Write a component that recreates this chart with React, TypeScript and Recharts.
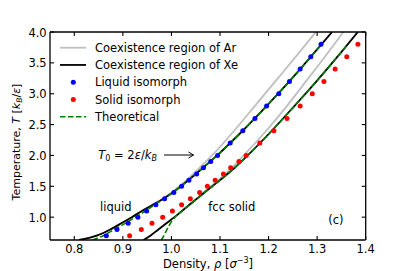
import React from 'react';
import { ComposedChart, Line, Scatter, XAxis, YAxis } from 'recharts';

// Isomorph state points (temperature, density)
const isoT = [0.6, 0.7, 0.8, 0.9, 1.0, 1.1, 1.2, 1.3, 1.4, 1.5, 1.6, 1.7, 1.8, 1.9, 2.0, 2.2, 2.4, 2.6, 2.8, 3.0, 3.2, 3.4, 3.6, 3.8];
const liquidIsoRho = [0.843, 0.866, 0.888, 0.911, 0.931, 0.949, 0.968, 0.986, 1.005, 1.021, 1.036, 1.052, 1.066, 1.081, 1.095, 1.121, 1.147, 1.172, 1.196, 1.221, 1.243, 1.265, 1.287, 1.308];
const solidIsoRho = [0.889, 0.914, 0.938, 0.960, 0.982, 1.002, 1.021, 1.039, 1.058, 1.074, 1.090, 1.107, 1.122, 1.139, 1.154, 1.182, 1.211, 1.238, 1.265, 1.290, 1.314, 1.337, 1.361, 1.384];

// Coexistence lines
const curveT = [0.63, 0.7, 0.8, 0.9, 1.0, 1.1, 1.2, 1.3, 1.4, 1.6, 1.8, 2.0, 2.4, 2.8, 3.2, 3.6, 4.0];
const arLiquidRho = [0.8099, 0.8461, 0.874, 0.8967, 0.9184, 0.939, 0.9607, 0.9814, 1.0, 1.031, 1.0579, 1.0837, 1.1291, 1.1715, 1.2138, 1.2562, 1.2975];
const arSolidRho = [0.9428, 0.9566, 0.9731, 0.9897, 1.0062, 1.0217, 1.0362, 1.0517, 1.0661, 1.0961, 1.124, 1.1488, 1.1953, 1.2376, 1.2769, 1.3161, 1.3539];
const xeLiquidRho = [0.8099, 0.8461, 0.874, 0.8967, 0.9184, 0.939, 0.9618, 0.9835, 1.0031, 1.0351, 1.0651, 1.094, 1.1467, 1.1957, 1.2428, 1.2872, 1.3306];
const xeSolidRho = [0.9428, 0.9566, 0.9731, 0.9897, 1.0062, 1.0217, 1.0372, 1.0527, 1.0682, 1.1002, 1.1302, 1.157, 1.2066, 1.2531, 1.2986, 1.3419, 1.3837];

// Theoretical lines
const theoryT = [0.63, 0.7, 0.8, 0.9, 1.0, 1.1, 1.2, 1.3, 1.4, 1.6, 1.8, 2.0, 2.4, 2.8, 3.2, 3.6, 3.8];
const theoryLiquidRho = [0.838, 0.8595, 0.8822, 0.905, 0.9256, 0.9463, 0.9659, 0.9845, 1.0031, 1.0351, 1.0651, 1.094, 1.1467, 1.1957, 1.2428, 1.2872, 1.3089];
const theorySolidRho = [0.9793, 0.9845, 0.9907, 0.9979, 1.0072, 1.0217, 1.0372, 1.0527, 1.0682, 1.1002, 1.1302, 1.157, 1.2066, 1.2531, 1.2986, 1.3419, 1.3628];

const xTicks = [0.8, 0.9, 1.0, 1.1, 1.2, 1.3, 1.4];
const yTicks = [1.0, 1.5, 2.0, 2.5, 3.0, 3.5, 4.0];
const xDomain = [0.75, 1.4];
const yDomain = [0.63, 4.0];

const pairs = (rho: number[], T: number[]) => rho.map((r, i) => ({ rho: r, T: T[i] }));

const arLiquid = pairs(arLiquidRho, curveT);
const arSolid = pairs(arSolidRho, curveT);
const xeLiquid = pairs(xeLiquidRho, curveT);
const xeSolid = pairs(xeSolidRho, curveT);
const thLiquid = pairs(theoryLiquidRho, theoryT);
const thSolid = pairs(theorySolidRho, theoryT);
const liquidIso = pairs(liquidIsoRho, isoT);
const solidIso = pairs(solidIsoRho, isoT);

const FONT = 'DejaVu Sans';
const FS = 11.5;
const TICK = 4;

const BottomTick = (p: any) => (
  <g>
    <line x1={p.x} x2={p.x} y1={p.y} y2={p.y - TICK} stroke="#000" strokeWidth={1.1} />
    <text x={p.x} y={p.y + 13.3} textAnchor="middle" fontSize={FS} fontFamily={FONT} fill="#000">
      {Number(p.payload.value).toFixed(1)}
    </text>
  </g>
);
const TopTick = (p: any) => (
  <line x1={p.x} x2={p.x} y1={p.y} y2={p.y + TICK} stroke="#000" strokeWidth={1.1} />
);
const LeftTick = (p: any) => (
  <g>
    <line x1={p.x} x2={p.x + TICK} y1={p.y} y2={p.y} stroke="#000" strokeWidth={1.1} />
    <text x={p.x - 3.3} y={p.y + 4.5} textAnchor="end" fontSize={FS} fontFamily={FONT} fill="#000">
      {Number(p.payload.value).toFixed(1)}
    </text>
  </g>
);
const RightTick = (p: any) => (
  <line x1={p.x} x2={p.x - TICK} y1={p.y} y2={p.y} stroke="#000" strokeWidth={1.1} />
);

const dot = (color: string) => (p: any) => <circle cx={p.cx} cy={p.cy} r={2.5} fill={color} />;

const axisLine = { stroke: '#000', strokeWidth: 1.3 };

const legendRows = [
  { label: 'Coexistence region of Ar', kind: 'line', color: '#bfbfbf' },
  { label: 'Coexistence region of Xe', kind: 'line', color: '#000000' },
  { label: 'Liquid isomorph', kind: 'dot', color: '#0000ff' },
  { label: 'Solid isomorph', kind: 'dot', color: '#ff0000' },
  { label: 'Theoretical', kind: 'dash', color: '#008000' },
];

export default function App() {
  return (
    <div style={{ position: 'absolute', left: 0, top: 0, width: 407, height: 271, background: '#fff' }}>
      <ComposedChart width={407} height={271} margin={{ top: 31, right: 40.3, bottom: 6, left: 10 }}>
        <XAxis
          xAxisId="b"
          type="number"
          dataKey="rho"
          domain={xDomain}
          ticks={xTicks}
          allowDataOverflow
          height={25}
          tickSize={0}
          tickMargin={0}
          tickLine={false}
          axisLine={axisLine}
          tick={BottomTick}
          interval={0}
        />
        <XAxis
          xAxisId="t"
          orientation="top"
          type="number"
          dataKey="rho"
          domain={xDomain}
          ticks={xTicks}
          allowDataOverflow
          height={1}
          tickSize={0}
          tickMargin={0}
          tickLine={false}
          axisLine={axisLine}
          tick={TopTick}
          interval={0}
        />
        <YAxis
          yAxisId="l"
          type="number"
          dataKey="T"
          domain={yDomain}
          ticks={yTicks}
          allowDataOverflow
          width={40}
          tickSize={0}
          tickMargin={0}
          tickLine={false}
          axisLine={axisLine}
          tick={LeftTick}
          interval={0}
        />
        <YAxis
          yAxisId="r"
          orientation="right"
          type="number"
          dataKey="T"
          domain={yDomain}
          ticks={yTicks}
          allowDataOverflow
          width={1}
          tickSize={0}
          tickMargin={0}
          tickLine={false}
          axisLine={axisLine}
          tick={RightTick}
          interval={0}
        />
        <Line xAxisId="b" yAxisId="l" data={arLiquid} dataKey="T" type="monotone" stroke="#bfbfbf" strokeWidth={1.8} dot={false} activeDot={false} isAnimationActive={false} />
        <Line xAxisId="b" yAxisId="l" data={arSolid} dataKey="T" type="monotone" stroke="#bfbfbf" strokeWidth={1.8} dot={false} activeDot={false} isAnimationActive={false} />
        <Line xAxisId="b" yAxisId="l" data={xeLiquid} dataKey="T" type="monotone" stroke="#000" strokeWidth={1.8} dot={false} activeDot={false} isAnimationActive={false} />
        <Line xAxisId="b" yAxisId="l" data={xeSolid} dataKey="T" type="monotone" stroke="#000" strokeWidth={1.8} dot={false} activeDot={false} isAnimationActive={false} />
        <Line xAxisId="b" yAxisId="l" data={thLiquid} dataKey="T" type="monotone" stroke="#008000" strokeWidth={1.6} strokeDasharray="5.5 2.5" dot={false} activeDot={false} isAnimationActive={false} />
        <Line xAxisId="b" yAxisId="l" data={thSolid} dataKey="T" type="monotone" stroke="#008000" strokeWidth={1.6} strokeDasharray="5.5 2.5" dot={false} activeDot={false} isAnimationActive={false} />
        <Scatter xAxisId="b" yAxisId="l" data={liquidIso} dataKey="T" shape={dot('#0000ff')} isAnimationActive={false} />
        <Scatter xAxisId="b" yAxisId="l" data={solidIso} dataKey="T" shape={dot('#ff0000')} isAnimationActive={false} />
      </ComposedChart>
      <svg
        width={407}
        height={271}
        style={{ position: 'absolute', left: 0, top: 0, pointerEvents: 'none' }}
        fontFamily={FONT}
        fontSize={FS}
      >
        {legendRows.map((r, i) => {
          const cy = 47.7 + i * 17.25;
          return (
            <g key={r.label}>
              {r.kind === 'line' && <line x1={60} x2={86} y1={cy} y2={cy} stroke={r.color} strokeWidth={1.8} />}
              {r.kind === 'dash' && <line x1={60} x2={86} y1={cy} y2={cy} stroke={r.color} strokeWidth={1.6} strokeDasharray="5.5 2.5" />}
              {r.kind === 'dot' && <circle cx={73.3} cy={cy} r={2.5} fill={r.color} />}
              <text x={95} y={cy + 4.2} fill="#000">{r.label}</text>
            </g>
          );
        })}
        <text x={98.3} y={159.2} fill="#000">
          <tspan fontStyle="italic">T</tspan>
          <tspan fontSize={8} dy={2}>0</tspan>
          <tspan dy={-2}> = 2</tspan>
          <tspan fontStyle="italic">ε</tspan>
          <tspan>/</tspan>
          <tspan fontStyle="italic">k</tspan>
          <tspan fontSize={8} dy={2} fontStyle="italic">B</tspan>
        </text>
        <path d="M164,155 L193.5,155 M188.5,152 L193.5,155 L188.5,158" stroke="#000" strokeWidth={1} fill="none" />
        <text x={100} y={210.9} fill="#000">liquid</text>
        <text x={208.3} y={210.9} fill="#000">fcc solid</text>
        <text x={328.3} y={223.5} fill="#000">(c)</text>
        <text x={208} y={267.5} textAnchor="middle" fill="#000">
          <tspan>Density, </tspan>
          <tspan fontStyle="italic">ρ</tspan>
          <tspan> [</tspan>
          <tspan fontStyle="italic">σ</tspan>
          <tspan fontSize={8} dy={-5}>−3</tspan>
          <tspan dy={5}>]</tspan>
        </text>
        <text transform="translate(19.5,142) rotate(-90)" textAnchor="middle" fontSize={11} fill="#000">
          <tspan>Temperature, </tspan>
          <tspan fontStyle="italic">T</tspan>
          <tspan> [</tspan>
          <tspan fontStyle="italic">k</tspan>
          <tspan fontSize={7.7} dy={2} fontStyle="italic">B</tspan>
          <tspan dy={-2}>/</tspan>
          <tspan fontStyle="italic">ε</tspan>
          <tspan>]</tspan>
        </text>
      </svg>
    </div>
  );
}
